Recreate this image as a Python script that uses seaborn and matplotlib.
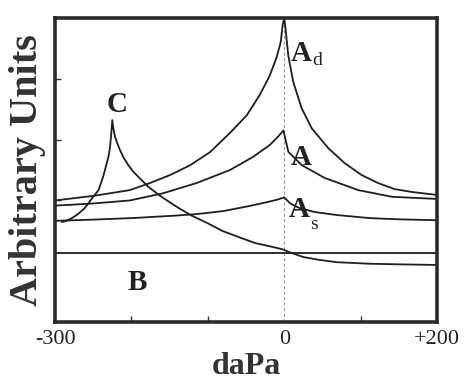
import seaborn as sns
import matplotlib.pyplot as plt
import pandas as pd

# curve readings (daPa, arbitrary units)
ad_x = [-300, -250, -202, -176, -149, -123, -97, -71, -49, -32, -19, -10, -4.6, -2, 0,
        2, 5.2, 11.8, 22.7, 35.8, 57.6, 79, 101, 123, 145, 167, 200]
ad_y = [4.0, 4.15, 4.34, 4.57, 4.84, 5.16, 5.59, 6.22, 6.8, 7.47, 8.1, 8.7, 9.2, 9.77, 10.0,
        9.6, 8.78, 7.9, 7.04, 6.38, 5.72, 5.23, 4.84, 4.57, 4.37, 4.28, 4.18]

a_x = [-300, -250, -202, -158, -115, -71, -41, -19, -8, -1,
       5.4, 23, 53, 97, 141, 200]
a_y = [3.83, 3.9, 4.0, 4.24, 4.57, 5.0, 5.43, 5.82, 6.1, 6.3,
       5.6, 5.16, 4.74, 4.34, 4.12, 4.05]

as_x = [-300, -250, -200, -150, -115, -80, -49, -25, -10, 0,
        8, 20, 40, 69, 112, 150, 200]
as_y = [3.33, 3.37, 3.42, 3.49, 3.55, 3.65, 3.8, 3.93, 4.02, 4.1,
        3.9, 3.75, 3.62, 3.52, 3.42, 3.38, 3.35]

b_x = [-300, 200]
b_y = [2.28, 2.28]

c_x = [-291, -285, -278, -270, -261, -255, -250, -243, -237, -233, -230, -228, -226.7, -225,
       -223.5, -221.5, -218, -215, -210, -204, -198, -191, -178, -160, -140, -121, -100,
       -81, -60, -38, -20, -3, 10, 25, 45, 69, 112, 150, 200]
c_y = [3.29, 3.33, 3.42, 3.55, 3.75, 3.95, 4.12, 4.34, 4.78, 5.15, 5.44, 5.75, 6.1, 6.64,
       6.35, 6.1, 5.85, 5.66, 5.4, 5.16, 4.96, 4.78, 4.45, 4.11, 3.78, 3.5, 3.25,
       3.0, 2.8, 2.6, 2.5, 2.4, 2.27, 2.14, 2.05, 1.97, 1.92, 1.9, 1.88]

curves = {"Ad": (ad_x, ad_y), "A": (a_x, a_y), "As": (as_x, as_y),
          "B": (b_x, b_y), "C": (c_x, c_y)}

sns.set_theme(style="white")
plt.rcParams['font.family'] = ['Liberation Serif', 'DejaVu Serif']

fig = plt.figure(figsize=(4.74, 3.9), dpi=100)
ax = fig.add_axes([0.116, 0.174, 0.806, 0.78])

for name, (xs, ys) in curves.items():
    df = pd.DataFrame({"x": xs, "y": ys})
    sns.lineplot(data=df, x="x", y="y", sort=False, estimator=None,
                 color="#1e1e1e", linewidth=1.3, ax=ax)

ax.axvline(0, color="#999999", linestyle=(0, (3, 2)), linewidth=0.8, zorder=0)

ax.set_xlim(-300, 200)
ax.set_ylim(0, 10)

ax.set_xticks([-300, 0, 200])
ax.set_xticklabels(["-300", "0", "+200"])
ax.set_xticks([-200, -100, 100], minor=True)
ax.set_yticks([4, 6, 8])
ax.set_yticklabels([])
ax.tick_params(axis="x", which="major", length=0, labelsize=16, pad=6, colors="#222222")
ax.tick_params(axis="x", which="minor", direction="in", length=4, width=1, bottom=True, color="#333333")
ax.tick_params(axis="y", direction="in", length=4, width=1, left=True, color="#333333")

for s in ax.spines.values():
    s.set_linewidth(2.6)
    s.set_color("#2a2a2a")

ax.set_xlabel("daPa", fontsize=23, fontweight="bold", color="#333333", labelpad=2)
ax.set_ylabel("Arbitrary Units", fontsize=29, fontweight="bold", color="#333333", labelpad=3)

lab = dict(fontsize=21, fontweight="bold", color="#222222")
ax.text(8, 8.6, "A", **lab)
ax.text(37, 8.45, "d", fontsize=14, color="#222222")
ax.text(8, 5.15, "A", **lab)
ax.text(6, 3.45, "A", **lab)
ax.text(34, 3.05, "s", fontsize=14, color="#222222")
ax.text(-232, 6.9, "C", **lab)
ax.text(-205, 1.05, "B", **lab)

fig.savefig("out.png", dpi=100)
